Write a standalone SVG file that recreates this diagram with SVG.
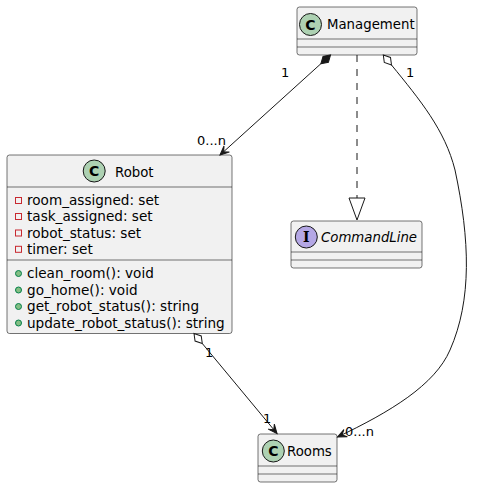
<svg xmlns="http://www.w3.org/2000/svg" width="489" height="488" viewBox="0 0 489 488">
<style>
.box{fill:#F1F1F1;stroke:#181818;stroke-width:0.6}
.sep{stroke:#181818;stroke-width:0.6}
.title{font-family:"DejaVu Sans",sans-serif;font-size:13.3px;fill:#000}
.mem{font-family:"DejaVu Sans",sans-serif;font-size:13.6px;fill:#000}
.lbl{font-family:"DejaVu Sans",sans-serif;font-size:13px;fill:#000}
.cc{fill:#ADD1B2;stroke:#181818;stroke-width:1}
.ci{fill:#B4A7E5;stroke:#181818;stroke-width:1}
.glyph{font-family:"DejaVu Sans",sans-serif;font-weight:bold;font-size:14px;fill:#000;text-anchor:middle}
.priv{fill:none;stroke:#C82930;stroke-width:1}
.pub{fill:#84BE84;stroke:#038048;stroke-width:1}
.edge{fill:none;stroke:#181818;stroke-width:1}
</style>
<defs>
<marker id="arr" viewBox="-10 -5 12 10" refX="0" refY="0" markerWidth="12" markerHeight="10" markerUnits="userSpaceOnUse" orient="auto">
<path d="M0,0 L-9,-4 L-5,0 L-9,4 Z" fill="#181818" stroke="#181818" stroke-width="1"/>
</marker>
<marker id="comp" viewBox="-15 -6 17 12" refX="0" refY="0" markerWidth="17" markerHeight="12" markerUnits="userSpaceOnUse" orient="auto">
<path d="M0,0 L-6.5,-4 L-13,0 L-6.5,4 Z" fill="#181818" stroke="#181818" stroke-width="1"/>
</marker>
<marker id="agg" viewBox="-15 -6 17 12" refX="0" refY="0" markerWidth="17" markerHeight="12" markerUnits="userSpaceOnUse" orient="auto">
<path d="M0,0 L-6.5,-4 L-13,0 L-6.5,4 Z" fill="#FFFFFF" stroke="#181818" stroke-width="1"/>
</marker>
</defs>
<rect width="489" height="488" fill="#FFFFFF"/>

<g id="Management">
<rect class="box" x="297" y="7" width="120" height="48" rx="2.5"/>
<line class="sep" x1="297" y1="39" x2="417" y2="39"/>
<line class="sep" x1="297" y1="47" x2="417" y2="47"/>
<circle class="cc" cx="310.5" cy="24.5" r="11"/>
<text class="glyph" x="310.5" y="29.5">C</text>
<text class="title" x="327" y="28.5">Management</text>
</g>

<g id="Robot">
<rect class="box" x="7" y="155" width="225" height="178.5" rx="2.5"/>
<line class="sep" x1="7" y1="187" x2="232" y2="187"/>
<line class="sep" x1="7" y1="260" x2="232" y2="260"/>
<circle class="cc" cx="94.2" cy="171" r="11"/>
<text class="glyph" x="94.2" y="176">C</text>
<text class="title" x="115" y="176.5">Robot</text>
<rect class="priv" x="15.5" y="197.5" width="6" height="6"/>
<text class="mem" x="27" y="205">room_assigned: set</text>
<rect class="priv" x="15.5" y="213.5" width="6" height="6"/>
<text class="mem" x="27" y="221.3">task_assigned: set</text>
<rect class="priv" x="15.5" y="230" width="6" height="6"/>
<text class="mem" x="27" y="237.6">robot_status: set</text>
<rect class="priv" x="15.5" y="246.3" width="6" height="6"/>
<text class="mem" x="27" y="254">timer: set</text>
<circle class="pub" cx="18.5" cy="273.5" r="3"/>
<text class="mem" x="27" y="278">clean_room(): void</text>
<circle class="pub" cx="18.5" cy="290" r="3"/>
<text class="mem" x="27" y="294.5">go_home(): void</text>
<circle class="pub" cx="18.5" cy="306.5" r="3"/>
<text class="mem" x="27" y="311">get_robot_status(): string</text>
<circle class="pub" cx="18.5" cy="323" r="3"/>
<text class="mem" x="27" y="327.5">update_robot_status(): string</text>
</g>

<g id="CommandLine">
<rect class="box" x="291" y="221" width="131" height="47" rx="2.5"/>
<line class="sep" x1="291" y1="252" x2="422" y2="252"/>
<line class="sep" x1="291" y1="260" x2="422" y2="260"/>
<circle class="ci" cx="306.3" cy="237" r="11"/>
<text x="306.3" y="242" style="font-family:'DejaVu Serif',serif;font-weight:bold;font-size:14px;text-anchor:middle;fill:#000">I</text>
<text class="title" x="321" y="241.7" font-style="italic">CommandLine</text>
</g>

<g id="Rooms">
<rect class="box" x="258" y="434" width="79" height="48" rx="2.5"/>
<line class="sep" x1="258" y1="466" x2="337" y2="466"/>
<line class="sep" x1="258" y1="474" x2="337" y2="474"/>
<circle class="cc" cx="273.3" cy="451" r="11"/>
<text class="glyph" x="273.3" y="456">C</text>
<text class="title" x="287" y="455.5">Rooms</text>
</g>

<g id="connectors">
<path class="edge" d="M320.9,63.7 L220,155" marker-start="url(#comp)" marker-end="url(#arr)"/>
<path class="edge" d="M357,55 L357,198" stroke-dasharray="7,7"/>
<polygon points="349,198 365,198 357,220" fill="none" stroke="#181818" stroke-width="1"/>
<path class="edge" d="M391.5,65 C420,100 445,130 455,170 C470,240 472,300 450,350 C435,385 390,412 337.5,437" marker-start="url(#agg)" marker-end="url(#arr)"/>
<path class="edge" d="M202.3,343.5 L277,433.5" marker-start="url(#agg)" marker-end="url(#arr)"/>
<text class="lbl" x="281" y="77">1</text>
<text class="lbl" x="197" y="145">0...n</text>
<text class="lbl" x="406" y="77">1</text>
<text class="lbl" x="205" y="357">1</text>
<text class="lbl" x="263" y="423">1</text>
<text class="lbl" x="345" y="436">0...n</text>
</g>
</svg>
